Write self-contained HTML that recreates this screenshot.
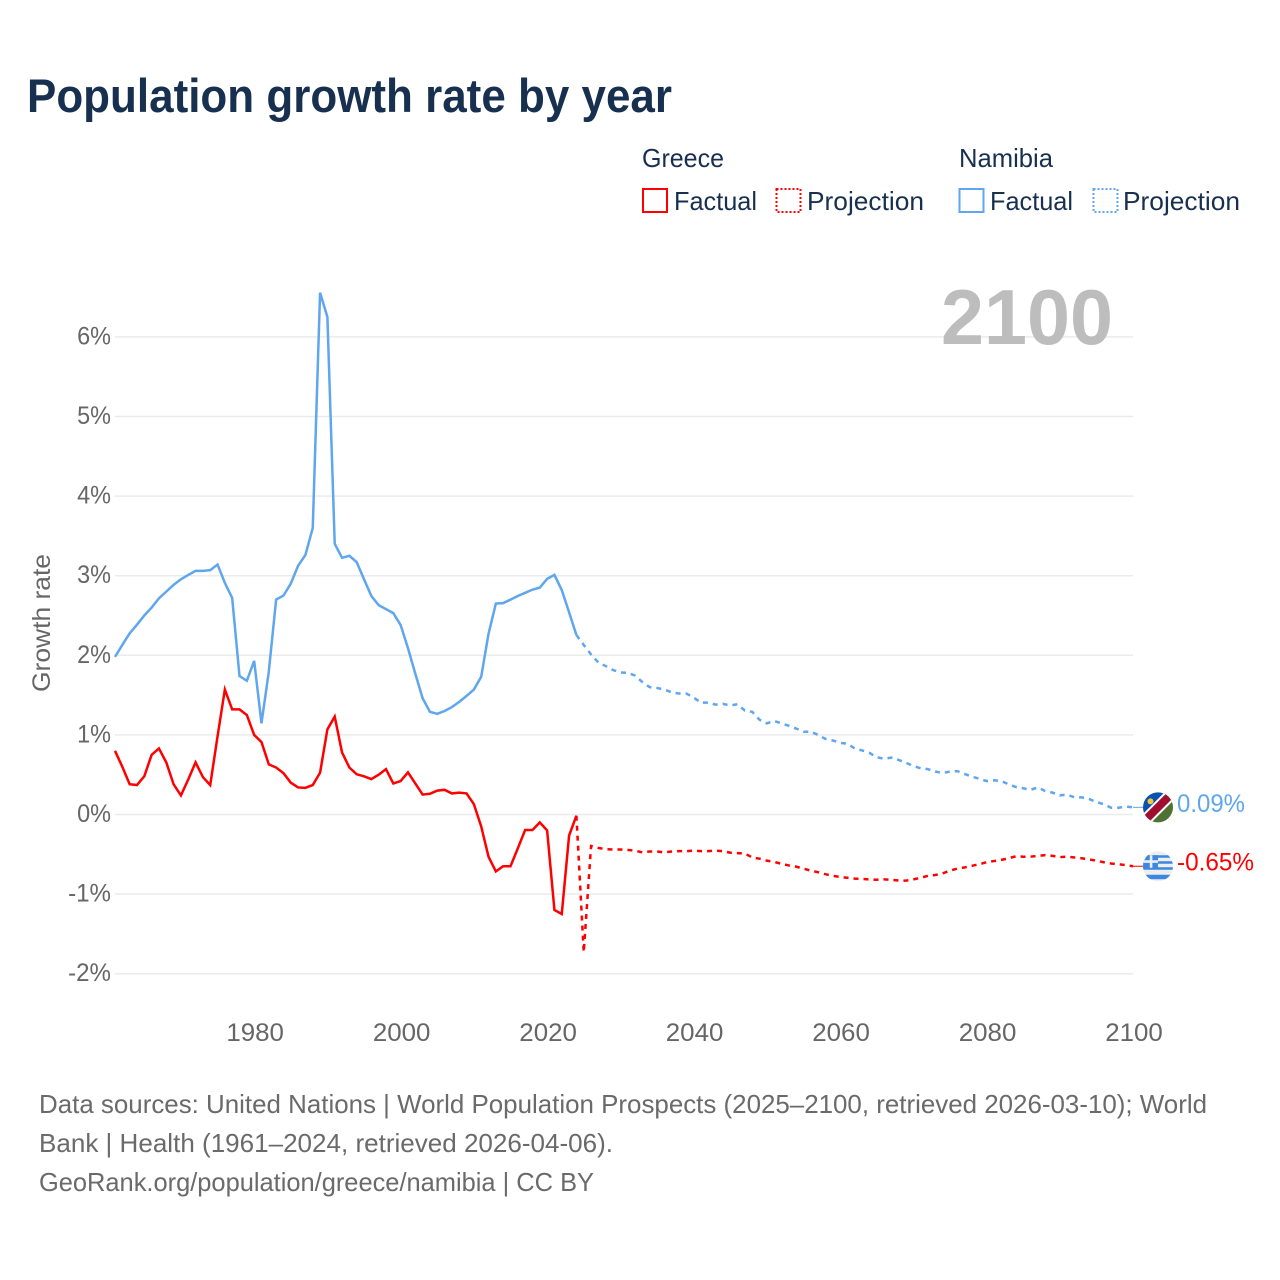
<!DOCTYPE html>
<html lang="en">
<head>
<meta charset="utf-8">
<title>Population growth rate by year</title>
<style>
html,body{margin:0;padding:0;background:#fff;}
svg{display:block;font-family:"Liberation Sans",sans-serif;}
</style>
</head>
<body>
<svg id="chart" xmlns="http://www.w3.org/2000/svg" width="1280" height="1280" viewBox="0 0 1280 1280">
  <rect width="1280" height="1280" fill="#fff"/>
  <text x="27" y="112" font-size="47" font-weight="700" fill="#18304f" textLength="645" lengthAdjust="spacingAndGlyphs">Population growth rate by year</text>

  <g font-size="26" fill="#18304f">
    <text x="642" y="167" textLength="82" lengthAdjust="spacingAndGlyphs">Greece</text>
    <text x="959" y="167" textLength="94" lengthAdjust="spacingAndGlyphs">Namibia</text>
    <rect x="643" y="189" width="24" height="23" fill="none" stroke="#ff0000" stroke-width="2"/>
    <text x="674" y="210" textLength="83" lengthAdjust="spacingAndGlyphs">Factual</text>
    <rect x="776.5" y="189" width="24" height="23" fill="none" stroke="#ff0000" stroke-width="2" stroke-dasharray="2 2"/>
    <text x="807" y="210" textLength="117" lengthAdjust="spacingAndGlyphs">Projection</text>
    <rect x="959.5" y="189" width="24" height="23" fill="none" stroke="#5fa6ee" stroke-width="2"/>
    <text x="990" y="210" textLength="83" lengthAdjust="spacingAndGlyphs">Factual</text>
    <rect x="1093.5" y="189" width="24" height="23" fill="none" stroke="#5fa6ee" stroke-width="2" stroke-dasharray="2 2"/>
    <text x="1123" y="210" textLength="117" lengthAdjust="spacingAndGlyphs">Projection</text>
  </g>

  <g id="grid"></g>
  <g id="yticks"></g>
  <g id="xticks"></g>

  <text transform="translate(50,692) rotate(-90)" font-size="25" fill="#666" textLength="138" lengthAdjust="spacingAndGlyphs">Growth rate</text>
  <text id="year-stamp" x="941" y="344" font-size="78" font-weight="700" fill="#bdbdbd" textLength="172" lengthAdjust="spacingAndGlyphs">2100</text>

  <g id="series"></g>

  <defs>
    <clipPath id="flag-clip"><circle cx="0" cy="0" r="15"/></clipPath>
  </defs>
  <g id="flag-namibia">
    <g clip-path="url(#flag-clip)">
      <g transform="rotate(-45)">
        <rect x="-22" y="-22" width="44" height="22" fill="#0b52ad"/>
        <rect x="-22" y="0" width="44" height="22" fill="#4f7232"/>
        <rect x="-22" y="-6" width="44" height="12" fill="#fff"/>
        <rect x="-22" y="-4" width="44" height="8" fill="#a10f30"/>
      </g>
      <circle cx="-7.5" cy="-6" r="3" fill="#f2c63c"/>
    </g>
  </g>
  <g id="flag-greece">
    <g clip-path="url(#flag-clip)">
      <rect x="-15" y="-15" width="30" height="30" fill="#eeeeee"/>
      <rect x="-15" y="-11" width="30" height="2.5" fill="#3a88e2"/>
      <rect x="-15" y="-5" width="30" height="2.5" fill="#3a88e2"/>
      <rect x="-15" y="1" width="30" height="2.5" fill="#3a88e2"/>
      <rect x="-15" y="8.5" width="30" height="4.5" fill="#3a88e2"/>
      <rect x="-15" y="-11" width="15" height="12.5" fill="#3a88e2"/>
      <rect x="-8.2" y="-11" width="2.6" height="12.5" fill="#eeeeee"/>
      <rect x="-15" y="-6" width="15" height="2.6" fill="#eeeeee"/>
    </g>
  </g>
  <g id="end-labels"></g>

  <g font-size="26" fill="#6a6a6a">
    <text x="39" y="1113" textLength="1168" lengthAdjust="spacingAndGlyphs">Data sources: United Nations | World Population Prospects (2025–2100, retrieved 2026-03-10); World</text>
    <text x="39" y="1152" textLength="574" lengthAdjust="spacingAndGlyphs">Bank | Health (1961–2024, retrieved 2026-04-06).</text>
    <text x="39" y="1191" textLength="555" lengthAdjust="spacingAndGlyphs">GeoRank.org/population/greece/namibia | CC BY</text>
  </g>
</svg>

<script>
const firstYear = 1961;
const projectionFirstYear = 2025;
const xTickLabels = [1980, 2000, 2020, 2040, 2060, 2080, 2100];
const yTickValues = [-2, -1, 0, 1, 2, 3, 4, 5, 6];
const seriesNames = ["Greece", "Namibia"];

const greeceFactual = [
  0.80,0.60,0.38,0.37,0.48,0.75,0.83,0.655,0.38,0.24,
  0.44,0.655,0.47,0.37,0.98,1.57,1.32,1.32,1.25,1.00,
  0.91,0.63,0.59,0.52,0.40,0.34,0.335,0.37,0.525,1.07,
  1.23,0.78,0.59,0.505,0.48,0.445,0.50,0.57,0.39,0.42,
  0.53,0.39,0.25,0.26,0.30,0.31,0.265,0.275,0.265,0.13,
  -0.15,-0.53,-0.715,-0.65,-0.65,-0.425,-0.195,-0.195,-0.10,-0.20,
  -1.20,-1.25,-0.265,-0.015
];
const greeceProjection = [
  -1.73,-0.395,-0.42,-0.435,-0.44,-0.44,-0.445,-0.455,-0.475,-0.465,
  -0.465,-0.475,-0.465,-0.46,-0.46,-0.455,-0.46,-0.46,-0.455,-0.46,
  -0.48,-0.485,-0.49,-0.54,-0.555,-0.58,-0.595,-0.62,-0.64,-0.655,
  -0.68,-0.705,-0.725,-0.75,-0.77,-0.785,-0.795,-0.805,-0.81,-0.815,
  -0.82,-0.815,-0.82,-0.83,-0.83,-0.815,-0.795,-0.77,-0.76,-0.74,
  -0.705,-0.68,-0.665,-0.645,-0.625,-0.60,-0.585,-0.57,-0.55,-0.525,
  -0.53,-0.53,-0.52,-0.51,-0.52,-0.535,-0.53,-0.54,-0.55,-0.565,
  -0.58,-0.60,-0.615,-0.625,-0.635,-0.65
];
const namibiaFactual = [
  1.98,2.13,2.276,2.385,2.50,2.60,2.715,2.80,2.885,2.955,
  3.01,3.06,3.06,3.07,3.14,2.91,2.72,1.74,1.68,1.93,
  1.145,1.795,2.70,2.75,2.90,3.125,3.26,3.60,6.555,6.25,
  3.40,3.225,3.25,3.17,2.955,2.745,2.63,2.58,2.53,2.38,
  2.09,1.77,1.46,1.29,1.265,1.30,1.35,1.415,1.49,1.57,
  1.73,2.27,2.65,2.655,2.70,2.745,2.785,2.825,2.85,2.96,
  3.01,2.82,2.54,2.255
];
const namibiaProjection = [
  2.13,2.01,1.91,1.865,1.815,1.785,1.78,1.745,1.665,1.60,
  1.59,1.57,1.535,1.52,1.52,1.47,1.405,1.405,1.38,1.39,
  1.37,1.385,1.305,1.29,1.19,1.145,1.175,1.145,1.115,1.08,
  1.04,1.04,1.00,0.95,0.93,0.90,0.89,0.83,0.805,0.775,
  0.72,0.70,0.715,0.685,0.65,0.61,0.58,0.57,0.54,0.52,
  0.54,0.545,0.51,0.475,0.45,0.42,0.43,0.42,0.38,0.345,
  0.33,0.31,0.34,0.295,0.275,0.24,0.25,0.215,0.215,0.195,
  0.155,0.13,0.085,0.085,0.10,0.09
];

const SVGNS = "http://www.w3.org/2000/svg";
const plotLeft = 115, pxPerYear = 7.324, zeroY = 814.5, pxPerUnit = 79.6, plotRight = 1133;
const xScale = year => plotLeft + (year - firstYear) * pxPerYear;
const yScale = value => zeroY - value * pxPerUnit;
const charWidth = ch => ch === "%" ? 19.5 : ch === "-" ? 9 : 14.4;
const labelWidth = s => String(s).split("").reduce((a, c) => a + charWidth(c), 0);

function make(tag, attrs, parent, content) {
  const el = document.createElementNS(SVGNS, tag);
  Object.keys(attrs).forEach(k => el.setAttribute(k, attrs[k]));
  if (content !== undefined) el.textContent = content;
  parent.appendChild(el);
  return el;
}

const gridG = document.getElementById("grid");
const yG = document.getElementById("yticks");
yTickValues.forEach(v => {
  const line = make("line", {x1: plotLeft, x2: plotRight, y1: yScale(v), y2: yScale(v), stroke: "#ebebeb", "stroke-width": 1.5}, gridG);
  
  
  const s = v + "%";
  const t = make("text", {x: 111, y: yScale(v) + 7.5, "text-anchor": "end", "font-size": 25, fill: "#666", textLength: labelWidth(s), lengthAdjust: "spacingAndGlyphs"}, yG, s);
  
  
});

const xG = document.getElementById("xticks");
xTickLabels.forEach(y => {
  const t = make("text", {x: xScale(y) + 1, y: 1041, "text-anchor": "middle", "font-size": 25, fill: "#666", textLength: labelWidth(y), lengthAdjust: "spacingAndGlyphs"}, xG, String(y));
  
  
});

const seriesG = document.getElementById("series");
function drawSeries(values, startYear, colour, dashed, prev) {
  const pts = values.map((v, i) => [xScale(startYear + i), yScale(v)]);
  if (prev !== undefined) pts.unshift([xScale(startYear - 1), yScale(prev)]);
  const d = pts.map((p, i) => (i ? "L" : "M") + p[0].toFixed(2) + " " + p[1].toFixed(2)).join("");
  const attrs = {d: d, fill: "none", stroke: colour, "stroke-width": 2.5, "stroke-linejoin": "miter"};
  if (dashed) attrs["stroke-dasharray"] = "5 5";
  return make("path", attrs, seriesG);
}
const colours = ["#ff0000", "#5fa6ee"];
const nFactualLine = drawSeries(namibiaFactual, firstYear, colours[1], false);


const nProjLine = drawSeries(namibiaProjection, projectionFirstYear, colours[1], true, namibiaFactual[namibiaFactual.length - 1]);


const gFactualLine = drawSeries(greeceFactual, firstYear, colours[0], false);


const gProjLine = drawSeries(greeceProjection, projectionFirstYear, colours[0], true, greeceFactual[greeceFactual.length - 1]);



const lastGreece = greeceProjection[greeceProjection.length - 1];
const lastNamibia = namibiaProjection[namibiaProjection.length - 1];
const flagX = 1158;
document.getElementById("flag-namibia").setAttribute("transform", "translate(" + flagX + "," + yScale(lastNamibia) + ")");
document.getElementById("flag-greece").setAttribute("transform", "translate(" + flagX + "," + yScale(lastGreece) + ")");

const endG = document.getElementById("end-labels");
const connN = make("line", {x1: plotRight, x2: flagX - 15, y1: yScale(lastNamibia), y2: yScale(lastNamibia), stroke: colours[1], "stroke-width": 1}, endG);


const connG = make("line", {x1: plotRight, x2: flagX - 15, y1: yScale(lastGreece), y2: yScale(lastGreece), stroke: colours[0], "stroke-width": 1}, endG);


const lblN = make("text", {x: 1177, y: yScale(lastNamibia) + 4.5, "font-size": 25, fill: colours[1], textLength: 68, lengthAdjust: "spacingAndGlyphs"}, endG, lastNamibia.toFixed(2) + "%");


const lblG = make("text", {x: 1177, y: yScale(lastGreece) + 4.5, "font-size": 25, fill: colours[0], textLength: 77, lengthAdjust: "spacingAndGlyphs"}, endG, lastGreece.toFixed(2) + "%");


</script>
</body>
</html>
